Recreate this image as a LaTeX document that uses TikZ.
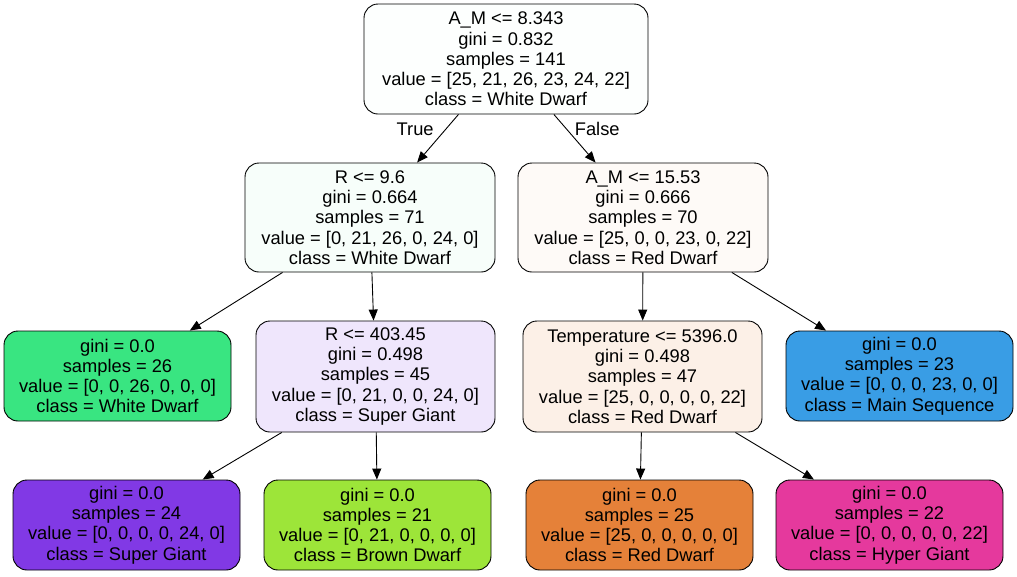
\documentclass[tikz,border=0pt]{standalone}
\usepackage{fontspec}
\setmainfont{Liberation Sans}
\usetikzlibrary{arrows.meta}
\definecolor{redd}{RGB}{229,129,57}
\definecolor{brownd}{RGB}{157,229,57}
\definecolor{whited}{RGB}{57,229,129}
\definecolor{mainseq}{RGB}{57,157,229}
\definecolor{superg}{RGB}{129,57,229}
\definecolor{hyperg}{RGB}{229,57,157}
\definecolor{rootfill}{RGB}{253,255,254}
\definecolor{rfill}{RGB}{247,254,250}
\definecolor{amfill}{RGB}{254,250,247}
\definecolor{r2fill}{RGB}{239,230,252}
\definecolor{tfill}{RGB}{252,240,231}
\tikzset{ed/.style={inner sep=0pt,font=\fontsize{18.3}{20.2}\selectfont}}
\tikzset{>={Triangle[length=11pt,width=9pt]}}
\tikzset{split/.style={draw,rounded corners=14pt,align=center,inner sep=0pt,line width=0.9pt,font=\fontsize{18.3}{20.2}\selectfont}}
\tikzset{leaf/.style={split,minimum width=227pt,minimum height=90pt}}

\begin{document}
\begin{tikzpicture}[x=1pt,y=-1pt,line width=0.9pt]
\useasboundingbox (0,0) rectangle (1017,576);
\node[split,minimum width=284pt,minimum height=110pt,fill=rootfill] (root) at (506,59)
  {A\_M <= 8.343\\gini = 0.832\\samples = 141\\value = [25, 21, 26, 23, 24, 22]\\class = White Dwarf};

\node[split,minimum width=250pt,minimum height=109pt,fill=rfill] (r) at (370,217.5)
  {R <= 9.6\\gini = 0.664\\samples = 71\\value = [0, 21, 26, 0, 24, 0]\\class = White Dwarf};
\node[split,minimum width=250pt,minimum height=109pt,fill=amfill] (am) at (643,217.5)
  {A\_M <= 15.53\\gini = 0.666\\samples = 70\\value = [25, 0, 0, 23, 0, 22]\\class = Red Dwarf};

\node[leaf,fill=whited] (wd) at (117.5,376)
  {gini = 0.0\\samples = 26\\value = [0, 0, 26, 0, 0, 0]\\class = White Dwarf};
\node[split,minimum width=239pt,minimum height=111pt,fill=r2fill] (r2) at (375.5,376.5)
  {R <= 403.45\\gini = 0.498\\samples = 45\\value = [0, 21, 0, 0, 24, 0]\\class = Super Giant};
\node[split,minimum width=239pt,minimum height=111pt,fill=tfill] (temp) at (642.5,376.5)
  {Temperature <= 5396.0\\gini = 0.498\\samples = 47\\value = [25, 0, 0, 0, 0, 22]\\class = Red Dwarf};
\node[leaf,fill=mainseq] (ms) at (899.5,376)
  {gini = 0.0\\samples = 23\\value = [0, 0, 0, 23, 0, 0]\\class = Main Sequence};

\node[leaf,fill=superg] (sg) at (126.5,525)
  {gini = 0.0\\samples = 24\\value = [0, 0, 0, 0, 24, 0]\\class = Super Giant};
\node[leaf,fill=brownd] (bd) at (377.5,525)
  {gini = 0.0\\samples = 21\\value = [0, 21, 0, 0, 0, 0]\\class = Brown Dwarf};
\node[leaf,fill=redd] (rd) at (639.5,525)
  {gini = 0.0\\samples = 25\\value = [25, 0, 0, 0, 0, 0]\\class = Red Dwarf};
\node[leaf,fill=hyperg] (hg) at (889.5,525)
  {gini = 0.0\\samples = 22\\value = [0, 0, 0, 0, 0, 22]\\class = Hyper Giant};

\draw[->] (root) -- node[ed,pos=0.3,left=12pt] (true) {True} (r);
\draw[->] (root) -- node[ed,pos=0.3,right=8pt] (false) {False} (am);

\draw[->] (r) -- (wd);
\draw[->] (r) -- (r2);
\draw[->] (am) -- (temp);
\draw[->] (am) -- (ms);

\draw[->] (r2) -- (sg);
\draw[->] (r2) -- (bd);
\draw[->] (temp) -- (rd);
\draw[->] (temp) -- (hg);
\end{tikzpicture}
\end{document}
